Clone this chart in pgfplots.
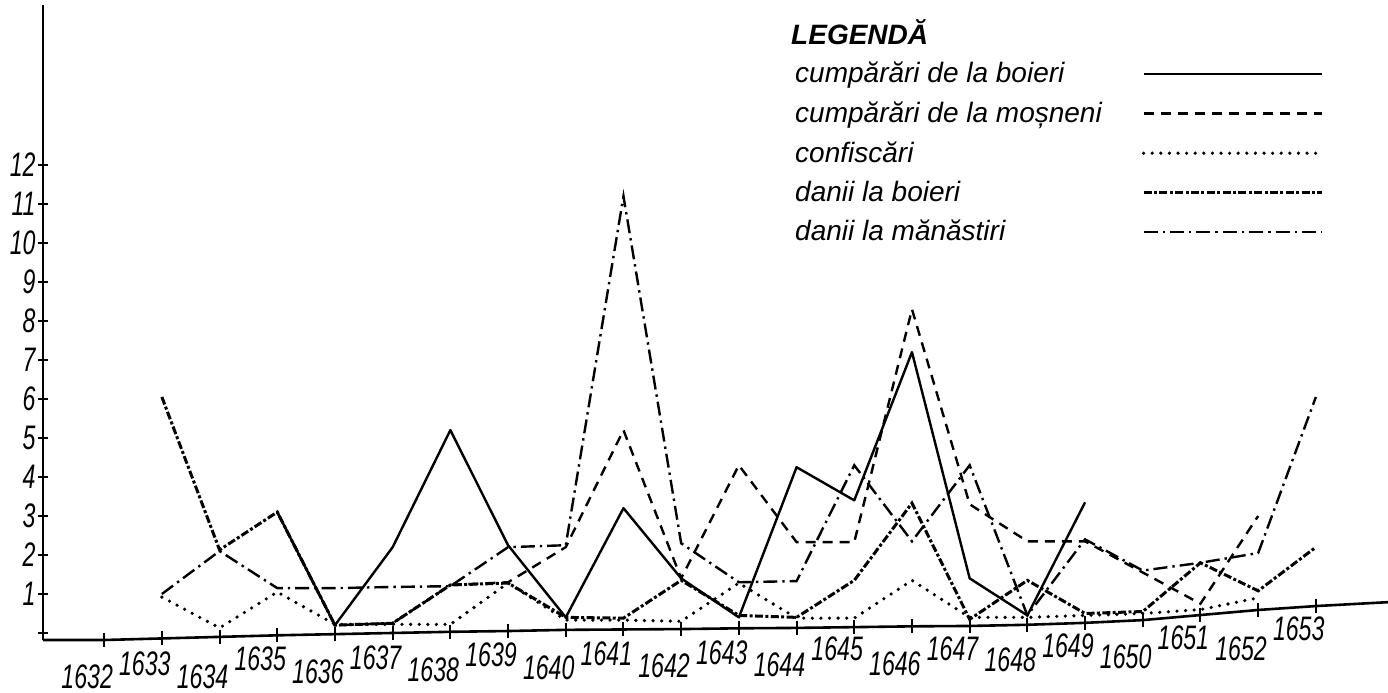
\documentclass[border=0pt]{standalone}
\usepackage{fontspec}
\setmainfont{Liberation Sans}
\usepackage{pgfplots}
\pgfplotsset{compat=1.18}
\newcommand{\lab}[1]{\scalebox{0.68}[1]{\fontsize{17}{19}\selectfont\itshape #1}}
\newcommand{\xl}[2]{\raisebox{-#1pt}{\lab{#2}}}
\begin{document}
\begin{tikzpicture}
\useasboundingbox (-21.5pt,-26pt) rectangle (672.5pt,320pt);
\begin{axis}[
  scale only axis,
  width=672.5pt, height=317.5pt,
  xmin=1630.94, xmax=1654.25,
  ymin=-0.18, ymax=16.1,
  axis lines=left,
  axis line style={-, line width=1.3pt},
  x axis line style={draw=none},
  xtick={1632,...,1653},
  xtick style={draw=none},
  xticklabel style={anchor=base, xshift=-8.5pt, inner sep=0pt},
  xticklabels={\xl{21.5}{1632},\xl{15}{1633},\xl{21.5}{1634},\xl{12.5}{1635},\xl{19}{1636},\xl{12}{1637},\xl{18}{1638},\xl{10.5}{1639},\xl{17}{1640},\xl{10}{1641},\xl{16}{1642},\xl{9.5}{1643},\xl{15.5}{1644},\xl{7.5}{1645},\xl{15}{1646},\xl{7.5}{1647},\xl{13}{1648},\xl{6}{1649},\xl{11.5}{1650},\xl{2}{1651},\xl{7.5}{1652},\xl{-2.5}{1653}},
  ytick={0,...,12},
  yticklabels={,\lab{1},\lab{2},\lab{3},\lab{4},\lab{5},\lab{6},\lab{7},\lab{8},\lab{9},\lab{10},\lab{11},\lab{12}},
  ytick style={line width=1pt, black},
  tick align=center,
  major tick length=5pt,
  yticklabel style={inner sep=1pt},
  clip=false,
  legend plot pos=right,
  legend cell align=left,
  legend image code/.code={\draw[#1] (0pt,0pt) -- (89pt,0pt);},
  legend style={at={(rel axis cs:0.556,0.917)}, anchor=north west, draw=none, fill=none,
    inner sep=0pt, column sep=18pt, row sep=4pt,
    font=\fontsize{14}{16}\selectfont\itshape},
]
% baseline (slanted x axis as drawn)
\addplot[forget plot, black, line width=1.3pt, mark=|, mark size=3.5pt, mark indices={2,...,23}, mark options={line width=1pt}]
coordinates {(1630.94,-0.18)(1632,-0.18)(1633,-0.14)(1634,-0.10)(1635,-0.06)(1636,-0.03)(1637,0.0)(1638,0.03)(1639,0.05)(1640,0.08)(1641,0.09)(1642,0.10)(1643,0.12)(1644,0.13)(1645,0.15)(1646,0.17)(1647,0.18)(1648,0.21)(1649,0.26)(1650,0.33)(1651,0.46)(1652,0.59)(1653,0.69)(1654.25,0.79)};
% cumparari de la boieri
\addplot[black, line width=1.2pt, line join=round] coordinates {
(1635,3.1)(1636,0.2)(1637,2.2)(1638,5.2)(1639,2.25)(1640,0.4)(1641,3.2)(1642,1.4)(1643,0.4)(1644,4.25)(1645,3.4)(1646,7.2)(1647,1.4)(1648,0.45)(1649,3.35)};
\addlegendentry{cumpărări de la boieri}
% cumparari de la mosneni
\addplot[black, line width=1.2pt, dash pattern=on 5pt off 3.5pt] coordinates {
(1635,3.1)(1636,0.2)(1637,0.25)(1638,1.23)(1639,1.3)(1640,2.2)(1641,5.2)(1642,1.4)(1643,4.3)(1644,2.33)(1645,2.33)(1646,8.3)(1647,3.3)(1648,2.35)(1649,2.35)(1650,1.55)(1651,0.75)(1652,3.0)};
\addlegendentry{cumpărări de la moșneni}
% confiscari
\addplot[black, line width=1.8pt, line cap=round, dash pattern=on 0pt off 4.3pt] coordinates {
(1633,0.92)(1634,0.13)(1635,1.05)(1636,0.22)(1637,0.22)(1638,0.22)(1639,1.28)(1640,0.33)(1641,0.33)(1642,0.3)(1643,1.28)(1644,0.38)(1645,0.38)(1646,1.35)(1647,0.4)(1648,0.4)(1649,0.45)(1650,0.5)(1651,0.6)(1652,0.9)};
\addlegendentry{confiscări}
% danii la boieri
\addplot[black, line width=1.5pt, dash pattern=on 4pt off 1.2pt on 1.5pt off 1.2pt] coordinates {
(1633,6.05)(1634,2.13)(1635,3.1)(1636,0.2)(1637,0.25)(1638,1.23)(1639,1.28)(1640,0.4)(1641,0.38)(1642,1.35)(1643,0.45)(1644,0.4)(1645,1.35)(1646,3.33)(1647,0.35)(1648,1.35)(1649,0.5)(1650,0.55)(1651,1.8)(1652,1.08)(1653,2.2)};
\addlegendentry{danii la boieri}
% danii la manastiri
\addplot[black, line width=1.2pt, dash pattern=on 7pt off 2.5pt on 1.2pt off 2.5pt] coordinates {
(1633,1.0)(1634,2.1)(1635,1.15)(1636,1.15)(1637,1.18)(1638,1.2)(1639,2.2)(1640,2.25)(1641,11.2)(1642,2.3)(1643,1.3)(1644,1.33)(1645,4.3)(1646,2.35)(1647,4.3)(1648,0.45)(1649,2.4)(1650,1.6)(1651,1.8)(1652,2.05)(1653,6.05)};
\addlegendentry{danii la mănăstiri}
\node[anchor=west, inner sep=0pt, font=\fontsize{14}{16}\selectfont\bfseries\itshape] at (rel axis cs:0.556,0.957) {LEGENDĂ};
\end{axis}
\end{tikzpicture}
\end{document}
